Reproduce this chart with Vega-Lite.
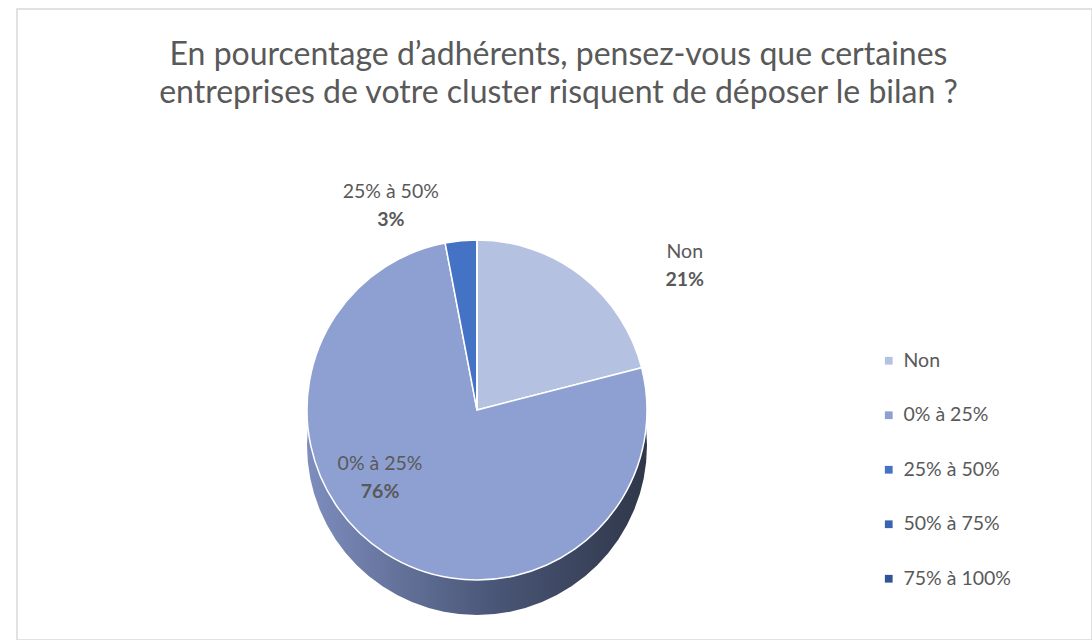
{
  "$schema": "https://vega.github.io/schema/vega-lite/v6.json",
  "width": 1075,
  "height": 631,
  "padding": {"left": 17, "top": 9, "right": 0, "bottom": 0},
  "autosize": {"type": "pad"},
  "background": "white",
  "view": {"stroke": "#d9d9d9", "strokeWidth": 1.5},
  "title": {
    "text": ["En pourcentage d’adhérents, pensez-vous que certaines", "entreprises de votre cluster risquent de déposer le bilan ?"],
    "anchor": "middle",
    "frame": "group",
    "orient": "top",
    "offset": -101,
    "dx": 4,
    "fontSize": 32,
    "font": "Lato",
    "fontWeight": "normal",
    "color": "#595959",
    "lineHeight": 38
  },
  "data": {
    "values": [
      {"cat": "Non", "value": 0.21, "o": 1},
      {"cat": "0% à 25%", "value": 0.76, "o": 2},
      {"cat": "25% à 50%", "value": 0.03, "o": 3},
      {"cat": "50% à 75%", "value": 0, "o": 4},
      {"cat": "75% à 100%", "value": 0, "o": 5}
    ]
  },
  "layer": [
    {
      "data": {"values": [{"part": "side"}]},
      "mark": {
        "type": "arc",
        "radius": 170,
        "theta": 0,
        "theta2": 6.2832,
        "x": 460,
        "y": 436,
        "fill": {
          "gradient": "linear",
          "x1": 0, "y1": 0, "x2": 1, "y2": 0,
          "stops": [
            {"offset": 0, "color": "#7d8dbd"},
            {"offset": 0.55, "color": "#4a5677"},
            {"offset": 1, "color": "#2f3749"}
          ]
        }
      },
      "encoding": {}
    },
    {
      "mark": {"type": "arc", "radius": 170, "x": 460, "y": 401, "stroke": "white", "strokeWidth": 1.5},
      "encoding": {
        "theta": {"field": "value", "type": "quantitative", "stack": true},
        "order": {"field": "o", "type": "quantitative"},
        "color": {
          "field": "cat",
          "type": "nominal",
          "sort": null,
          "scale": {
            "domain": ["Non", "0% à 25%", "25% à 50%", "50% à 75%", "75% à 100%"],
            "range": ["#b4c1e0", "#8ea0d2", "#4472c4", "#3b64b0", "#2f5597"]
          },
          "legend": {
            "orient": "none",
            "legendX": 862,
            "legendY": 342,
            "title": null,
            "symbolType": "square",
            "symbolSize": 60,
            "symbolStrokeWidth": 0,
            "labelFontSize": 19.5,
            "labelFont": "Lato",
            "labelColor": "#595959",
            "labelOffset": 5,
            "rowPadding": 33.5
          }
        },
        "tooltip": [{"field": "cat"}, {"field": "value", "format": ".0%"}]
      }
    },
    {
      "mark": {"type": "text", "radius": 215, "x": 460, "y": 401, "dx": 76, "dy": 12, "fontSize": 19.5, "font": "Lato", "color": "#595959"},
      "encoding": {
        "theta": {"field": "value", "type": "quantitative", "stack": true},
        "order": {"field": "o", "type": "quantitative"},
        "text": {"condition": {"test": "datum.cat !== 'Non'", "value": ""}, "field": "cat"}
      }
    },
    {
      "mark": {"type": "text", "radius": 215, "x": 460, "y": 401, "dx": 76, "dy": 40, "fontSize": 19.5, "font": "Lato", "fontWeight": "bold", "color": "#595959"},
      "encoding": {
        "theta": {"field": "value", "type": "quantitative", "stack": true},
        "order": {"field": "o", "type": "quantitative"},
        "text": {"condition": {"test": "datum.cat !== 'Non'", "value": ""}, "field": "value", "type": "quantitative", "format": ".0%"}
      }
    },
    {
      "mark": {"type": "text", "radius": 215, "x": 460, "y": 401, "dx": -66, "dy": -4, "fontSize": 19.5, "font": "Lato", "color": "#595959"},
      "encoding": {
        "theta": {"field": "value", "type": "quantitative", "stack": true},
        "order": {"field": "o", "type": "quantitative"},
        "text": {"condition": {"test": "datum.cat !== '25% à 50%'", "value": ""}, "field": "cat"}
      }
    },
    {
      "mark": {"type": "text", "radius": 215, "x": 460, "y": 401, "dx": -66, "dy": 24, "fontSize": 19.5, "font": "Lato", "fontWeight": "bold", "color": "#595959"},
      "encoding": {
        "theta": {"field": "value", "type": "quantitative", "stack": true},
        "order": {"field": "o", "type": "quantitative"},
        "text": {"condition": {"test": "datum.cat !== '25% à 50%'", "value": ""}, "field": "value", "type": "quantitative", "format": ".0%"}
      }
    },
    {
      "mark": {"type": "text", "radius": 110, "x": 460, "y": 401, "dx": -38, "dy": -39, "fontSize": 19.5, "font": "Lato", "color": "#595959"},
      "encoding": {
        "theta": {"field": "value", "type": "quantitative", "stack": true},
        "order": {"field": "o", "type": "quantitative"},
        "text": {"condition": {"test": "datum.cat !== '0% à 25%'", "value": ""}, "field": "cat"}
      }
    },
    {
      "mark": {"type": "text", "radius": 110, "x": 460, "y": 401, "dx": -38, "dy": -11, "fontSize": 19.5, "font": "Lato", "fontWeight": "bold", "color": "#595959"},
      "encoding": {
        "theta": {"field": "value", "type": "quantitative", "stack": true},
        "order": {"field": "o", "type": "quantitative"},
        "text": {"condition": {"test": "datum.cat !== '0% à 25%'", "value": ""}, "field": "value", "type": "quantitative", "format": ".0%"}
      }
    }
  ]
}
